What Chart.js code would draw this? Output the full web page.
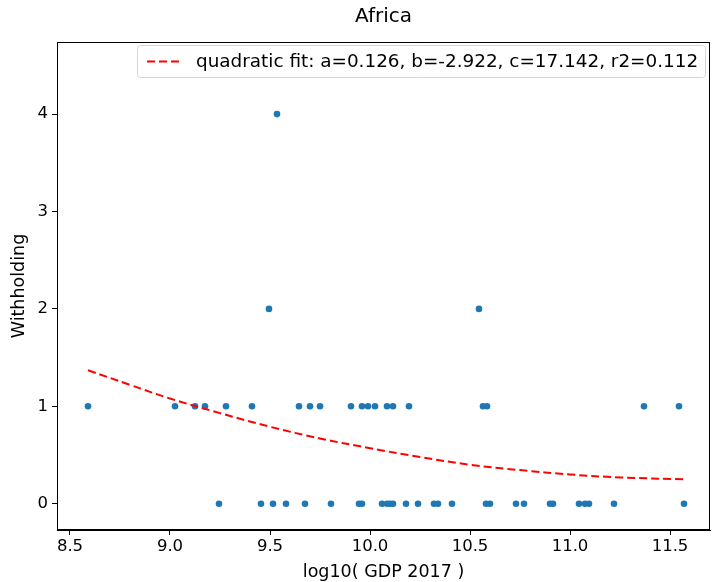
<!DOCTYPE html>
<html>
<head>
<meta charset="utf-8">
<script src="https://cdn.jsdelivr.net/npm/chart.js@4.4.1/dist/chart.umd.min.js"></script>
<style>
  html, body { margin: 0; padding: 0; background: #fff; }
  #wrap { width: 715px; height: 582px; position: relative; }
</style>
</head>
<body>
<div id="wrap"><canvas id="fitChart"></canvas></div>
<script>
// log10(GDP 2017) for each withholding level
const gdpAt0 = [9.245, 9.455, 9.515, 9.58, 9.675, 9.805, 9.945, 9.96, 10.06, 10.085, 10.10, 10.115,
                10.18, 10.24, 10.32, 10.34, 10.41, 10.58, 10.60, 10.73, 10.77, 10.90, 10.915,
                11.045, 11.075, 11.095, 11.22, 11.57];
const gdpAt1 = [8.59, 9.025, 9.125, 9.175, 9.28, 9.41, 9.645, 9.70, 9.75, 9.905, 9.96, 9.99,
                10.025, 10.085, 10.115, 10.195, 10.565, 10.585, 11.37, 11.545];
const gdpAt2 = [9.495, 10.545];
const gdpAt4 = [9.535];

// fitted curve
const fitX = [8.59, 8.8, 9.0, 9.25, 9.5, 9.75, 10.0, 10.25, 10.5, 10.75, 11.0, 11.25, 11.57];
const fitY = [1.37, 1.22, 1.08, 0.93, 0.79, 0.67, 0.57, 0.48, 0.40, 0.345, 0.30, 0.27, 0.25];

const xTicks = [8.5, 9.0, 9.5, 10.0, 10.5, 11.0, 11.5];
const yTicks = [0, 1, 2, 3, 4];

const chartTitle = 'Africa';
const fitLabel = 'quadratic fit: a=0.126, b=-2.922, c=17.142, r2=0.112';

document.addEventListener("DOMContentLoaded", function() {
    const font = "'DejaVu Sans', sans-serif";

    const points = [];
    [[gdpAt0, 0], [gdpAt1, 1], [gdpAt2, 2], [gdpAt4, 4]].forEach(([xs, lvl]) => {
        xs.forEach(x => points.push({ x: x, y: lvl }));
    });
    const fitLine = fitX.map((x, i) => ({ x: x, y: fitY[i] }));

    // frame, title over the axes and the legend box inside them
    const framePlugin = {
        id: 'frame',
        afterDraw(chart) {
            const { ctx, chartArea: a } = chart;
            ctx.save();
            ctx.strokeStyle = '#000';
            ctx.lineWidth = 1;
            ctx.strokeRect(a.left + 0.5, a.top + 0.5, a.right - a.left - 1, a.bottom - a.top - 1);

            ctx.fillStyle = '#000';
            ctx.font = "20px " + font;
            ctx.textAlign = 'center';
            ctx.textBaseline = 'middle';
            ctx.fillText(chartTitle, (a.left + a.right) / 2, 17);

            // legend
            const bx = 137, by = 45, bw = 568, bh = 32;
            ctx.fillStyle = 'rgba(255,255,255,0.8)';
            ctx.strokeStyle = '#d6d6d6';
            ctx.beginPath();
            ctx.roundRect(bx + 0.5, by + 0.5, bw, bh, 3);
            ctx.fill();
            ctx.stroke();
            ctx.strokeStyle = 'red';
            ctx.lineWidth = 2;
            ctx.setLineDash([8, 4]);
            ctx.beginPath();
            ctx.moveTo(147, by + bh / 2 + 0.5);
            ctx.lineTo(179, by + bh / 2 + 0.5);
            ctx.stroke();
            ctx.setLineDash([]);
            ctx.fillStyle = '#000';
            ctx.font = "18.4px " + font;
            ctx.textAlign = 'left';
            ctx.fillText(fitLabel, 196, by + bh / 2 + 1);
            ctx.restore();
        }
    };

    new Chart(document.getElementById('fitChart'), {
        type: 'scatter',
        data: {
            datasets: [
                {
                    label: fitLabel, type: 'line', data: fitLine,
                    borderColor: 'red', borderWidth: 2, borderDash: [8, 4],
                    pointRadius: 0, tension: 0.4, fill: false, order: 0
                },
                {
                    label: 'data', data: points,
                    backgroundColor: '#1f77b4', borderColor: '#1f77b4',
                    pointRadius: 3.3, pointBorderWidth: 0, order: 1
                }
            ]
        },
        options: {
            responsive: true, maintainAspectRatio: false, animation: false,
            layout: { padding: { top: 42, right: 5, left: 5, bottom: 0 } },
            plugins: {
                legend: { display: false },
                tooltip: { enabled: false },
                title: { display: false }
            },
            scales: {
                x: {
                    type: 'linear', min: 8.435, max: 11.7,
                    afterFit: s => { s.height = 52; },
                    afterBuildTicks: s => { s.ticks = xTicks.map(v => ({ value: v })); },
                    ticks: { color: '#000', font: { family: font, size: 16.5 }, padding: 2,
                             callback: v => v.toFixed(1) },
                    grid: { display: true, drawOnChartArea: false, tickLength: 5, color: '#000' },
                    border: { display: true, color: '#000' },
                    title: { display: true, text: 'log10( GDP 2017 )', color: '#000',
                             font: { family: font, size: 17.5 }, padding: { top: 0, bottom: -1 } }
                },
                y: {
                    type: 'linear', min: -0.27, max: 4.74,
                    afterFit: s => { s.width = 52; },
                    afterBuildTicks: s => { s.ticks = yTicks.map(v => ({ value: v })); },
                    ticks: { color: '#000', font: { family: font, size: 16.5 }, padding: 4 },
                    grid: { display: true, drawOnChartArea: false, tickLength: 5, color: '#000' },
                    border: { display: true, color: '#000' },
                    title: { display: true, text: 'Withholding', color: '#000',
                             font: { family: font, size: 17.5 }, padding: { bottom: 0 } }
                }
            }
        },
        plugins: [framePlugin]
    });
});
</script>
</body>
</html>
